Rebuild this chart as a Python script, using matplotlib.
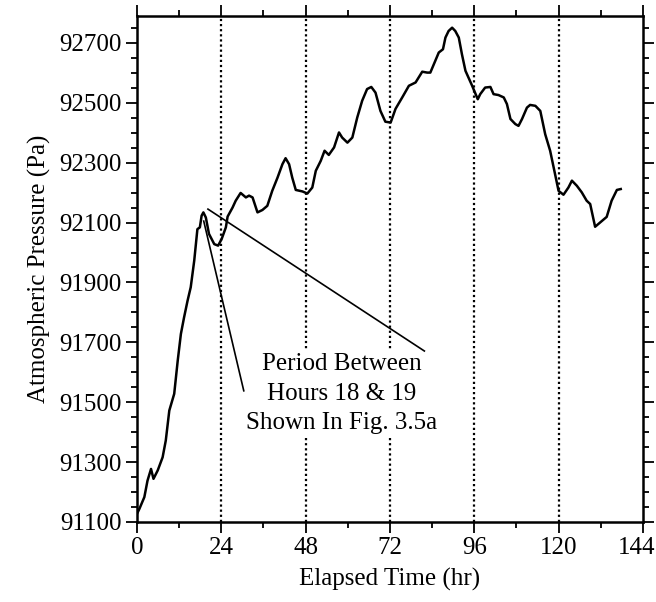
import numpy as np
import matplotlib
matplotlib.use("Agg")
import matplotlib.pyplot as plt
import matplotlib.transforms as mtransforms
from matplotlib.ticker import MultipleLocator

plt.rcParams['font.family'] = ['Liberation Serif', 'DejaVu Serif']

# pressure record
hours = [0.0, 0.7, 2.1, 3.0, 4.0, 4.7, 5.9, 7.3, 8.2, 9.2, 10.6, 11.6, 12.5,
         13.4, 14.4, 15.3, 16.3, 17.2, 17.9, 18.4, 18.9, 19.6, 20.5, 22.0,
         23.1, 24.1, 25.3, 25.8, 27.2, 28.1, 29.5, 31.0, 31.9, 32.9, 34.3,
         35.7, 37.1, 38.5, 40.0, 41.4, 42.3, 43.3, 44.2, 45.2, 47.1, 48.5,
         49.9, 50.9, 52.3, 53.4, 54.6, 56.1, 57.5, 58.4, 59.9, 61.3, 62.7,
         64.1, 65.5, 66.7, 67.9, 69.3, 70.7, 72.2, 73.6, 75.5, 77.4, 79.3,
         81.2, 82.6, 83.5, 84.9, 85.9, 87.1, 87.8, 88.7, 89.7, 90.6, 91.6,
         92.5, 93.5, 95.4, 97.0, 97.7, 99.1, 100.6, 101.5, 102.9, 104.4,
         105.3, 106.3, 107.7, 108.6, 109.6, 111.0, 111.9, 113.4, 114.8,
         116.2, 117.6, 119.0, 120.0, 121.4, 122.8, 123.8, 125.2, 126.6,
         128.0, 129.0, 130.4, 131.8, 133.7, 135.1, 136.6, 137.7]
pressure = [91127, 91144, 91183, 91238, 91277, 91244, 91272, 91316, 91372,
            91472, 91528, 91639, 91728, 91783, 91839, 91884, 91973, 92078,
            92084, 92123, 92134, 92117, 92062, 92028, 92023, 92045, 92084,
            92120, 92150, 92173, 92199, 92184, 92190, 92184, 92134, 92142,
            92156, 92206, 92250, 92295, 92315, 92295, 92250, 92209, 92204,
            92197, 92217, 92273, 92306, 92340, 92326, 92351, 92401, 92384,
            92367, 92384, 92451, 92507, 92546, 92553, 92534, 92473, 92437,
            92434, 92480, 92518, 92557, 92568, 92604, 92601, 92601, 92640,
            92668, 92679, 92718, 92740, 92751, 92740, 92718, 92662, 92607,
            92557, 92512, 92529, 92551, 92553, 92529, 92526, 92518, 92496,
            92446, 92429, 92423, 92446, 92484, 92493, 92490, 92473, 92395,
            92340, 92262, 92206, 92193, 92217, 92240, 92223, 92201, 92173,
            92162, 92086, 92100, 92119, 92173, 92209, 92212]

day_marks = [24, 48, 72, 96, 120]
xticks = [0, 24, 48, 72, 96, 120, 144]
yticks = [91100, 91300, 91500, 91700, 91900, 92100, 92300, 92500, 92700]

# pointer lines from the peak to the note
pointer1_x = [20.2, 81.8]
pointer1_y = [92145, 91671]
pointer2_x = [19.0, 30.4]
pointer2_y = [92105, 91538]

fig = plt.figure(figsize=(6.56, 6.02), dpi=100)
ax = fig.add_axes([0.2088, 0.1330, 0.7712, 0.8404])

for d in day_marks:
    ax.axvline(d, color='black', linestyle=(0, (1, 1.3)), linewidth=1.6, zorder=1)

ax.plot(hours, pressure, color='black', linewidth=1.8, zorder=3)
ax.plot(pointer1_x, pointer1_y, color='black', linewidth=1.2, zorder=3)
ax.plot(pointer2_x, pointer2_y, color='black', linewidth=1.2, zorder=3)

ax.text(58.2, 91528, "Period Between\nHours 18 & 19\nShown In Fig. 3.5a",
        ha='center', va='center', fontsize=18, linespacing=1.45, zorder=2,
        bbox=dict(facecolor='white', edgecolor='none', pad=2))

ax.set_xlim(0, 144)
ax.set_ylim(91100, 92790)
ax.set_xticks(xticks)
ax.set_yticks(yticks)
ax.xaxis.set_minor_locator(MultipleLocator(12))
ax.yaxis.set_minor_locator(MultipleLocator(50))
ax.tick_params(which='both', direction='out', top=True, right=True,
               labelsize=18, width=1.3, pad=3)
ax.tick_params(which='major', length=8)
ax.tick_params(which='minor', length=4)
for s in ax.spines.values():
    s.set_linewidth(1.8)

# keep the last x label inside the figure
last = ax.get_xticklabels()[-1]
last.set_transform(last.get_transform() +
                   mtransforms.ScaledTranslation(-6 / 100, 0, fig.dpi_scale_trans))

ax.set_xlabel("Elapsed Time (hr)", fontsize=18, labelpad=6)
ax.set_ylabel("Atmospheric Pressure (Pa)", fontsize=18, labelpad=6)

fig.savefig("out.png", dpi=100)
